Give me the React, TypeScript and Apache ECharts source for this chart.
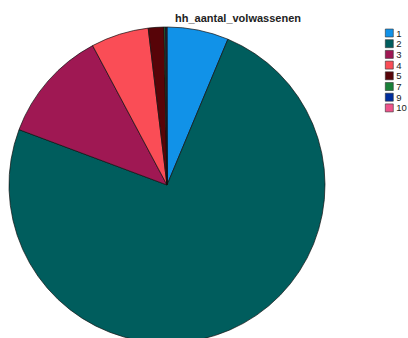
import React, { useEffect, useRef } from "react";
import * as echarts from "echarts";

const categories = ["1", "2", "3", "4", "5", "7", "9", "10"];
const values = [6.3, 74.4, 11.5, 5.9, 1.6, 0.15, 0.1, 0.05];
const colors = ["#1192e8", "#005d5d", "#9f1853", "#fa4d56", "#570408", "#198038", "#002d9c", "#ee538b"];
const titleText = "hh_aantal_volwassenen";

export default function App() {
  const ref = useRef<HTMLDivElement>(null);
  useEffect(() => {
    document.body.style.margin = "0";
    const chart = echarts.init(ref.current!, null, { renderer: "svg" });
    chart.setOption({
      animation: false,
      title: {
        text: titleText,
        left: 238,
        top: 12,
        padding: 0,
        textAlign: "center",
        textStyle: { fontFamily: "Liberation Sans", fontSize: 11, fontWeight: "bold", color: "#222" },
      },
      legend: {
        orient: "vertical",
        left: 385,
        top: 28,
        padding: 0,
        itemWidth: 8,
        itemHeight: 8,
        itemGap: 0.7,
        icon: "rect",
        data: categories,
        textStyle: { fontFamily: "Liberation Sans", fontSize: 9.5, lineHeight: 10, color: "#222", padding: [0, 0, 0, -2] },
        itemStyle: { borderColor: "#333", borderWidth: 0.6 },
      },
      series: [
        {
          type: "pie",
          center: [167, 185],
          radius: 158,
          startAngle: 90,
          clockwise: true,
          label: { show: false },
          labelLine: { show: false },
          silent: true,
          itemStyle: { borderColor: "#111", borderWidth: 0.7 },
          data: categories.map((c, i) => ({ name: c, value: values[i], itemStyle: { color: colors[i] } })),
        },
      ],
    });
    return () => chart.dispose();
  }, []);
  return <div ref={ref} style={{ width: 408, height: 338 }} />;
}
